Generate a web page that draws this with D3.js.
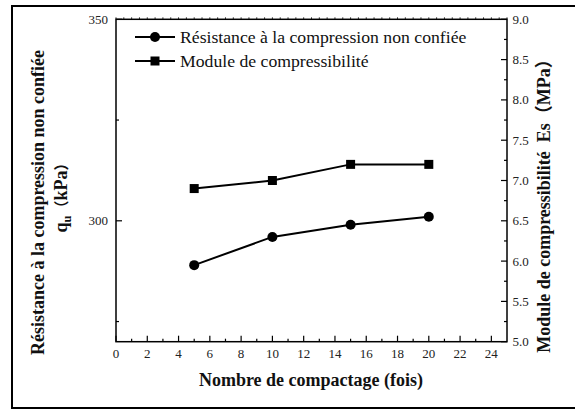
<!DOCTYPE html>
<html><head><meta charset="utf-8">
<script src="https://cdn.jsdelivr.net/npm/d3@7"></script>
<style>body{margin:0;background:#fff}svg{display:block}
svg text{font-family:"Liberation Serif","Times New Roman",Tinos,"DejaVu Serif",serif;}
svg text tspan.cjk{font-family:"Noto Sans CJK SC","Noto Sans CJK JP",sans-serif;}
</style>
</head><body>
<svg id="c" width="575" height="410"></svg>
<script>
const compactions = [5, 10, 15, 20];
const strengthKPa = [289, 296, 299, 301];
const modulusMPa = [6.9, 7.0, 7.2, 7.2];
const xTicks = [0, 2, 4, 6, 8, 10, 12, 14, 16, 18, 20, 22, 24];
const leftTicks = [300, 350];
const rightTicks = [5.0, 5.5, 6.0, 6.5, 7.0, 7.5, 8.0, 8.5, 9.0];
const seriesNames = ["Résistance à la compression non confiée", "Module de compressibilité"];

const svg = d3.select("#c");
const L = 116, R = 507, T = 19.3, B = 341.7;
const x = d3.scaleLinear().domain([0, 25]).range([L, R]);
const yL = d3.scaleLinear().domain([270, 350]).range([B, T]);
const yR = d3.scaleLinear().domain([5, 9]).range([B, T]);

// outer frame
svg.append("rect").attr("x", 12).attr("y", 6).attr("width", 570).attr("height", 402)
  .attr("fill", "none").attr("stroke", "#000").attr("stroke-width", 2);

// axes ticks (inward)
const g = svg.append("g").attr("stroke", "#000").attr("stroke-width", 1.2);
d3.range(0, 25, 1).forEach(v => {
  const len = v % 2 === 0 ? 6 : 3;
  g.append("line").attr("x1", x(v)).attr("x2", x(v)).attr("y1", B).attr("y2", B - len);
});
d3.range(0, 25.01, 0.5).forEach(v => {
  g.append("line").attr("x1", x(v)).attr("x2", x(v)).attr("y1", T).attr("y2", T - 2).attr("stroke-width", 0.8);
});
[275, 300, 325, 350].forEach(v => {
  const len = leftTicks.includes(v) ? 6 : 3;
  g.append("line").attr("x1", L).attr("x2", L + len).attr("y1", yL(v)).attr("y2", yL(v));
});
d3.range(5, 9.01, 0.25).forEach(v => {
  const major = Math.abs(v * 2 - Math.round(v * 2)) < 1e-6;
  const len = major ? 6 : 3;
  g.append("line").attr("x1", R).attr("x2", R - len).attr("y1", yR(v)).attr("y2", yR(v));
});

// axis frame lines
svg.append("rect").attr("x", L).attr("y", T).attr("width", R - L).attr("height", B - T)
  .attr("fill", "none").attr("stroke", "#000").attr("stroke-width", 1.5);

// tick labels
const tl = svg.append("g").attr("font-size", 13).attr("fill", "#222");
xTicks.forEach(v => tl.append("text").attr("x", x(v)).attr("y", B + 16.5).attr("text-anchor", "middle").text(v));
leftTicks.forEach(v => tl.append("text").attr("x", L - 8).attr("y", yL(v) + 4.5).attr("text-anchor", "end").text(v));
rightTicks.forEach(v => tl.append("text").attr("x", R + 5.5).attr("y", yR(v) + 4.5).attr("text-anchor", "start").text(v.toFixed(1)));

// series
const line = d3.line();
const p1 = compactions.map((c, i) => [x(c), yL(strengthKPa[i])]);
const p2 = compactions.map((c, i) => [x(c), yR(modulusMPa[i])]);
svg.append("path").attr("d", line(p1)).attr("fill", "none").attr("stroke", "#000").attr("stroke-width", 2);
svg.append("path").attr("d", line(p2)).attr("fill", "none").attr("stroke", "#000").attr("stroke-width", 2);
p1.forEach(p => svg.append("circle").attr("cx", p[0]).attr("cy", p[1]).attr("r", 5).attr("fill", "#000"));
p2.forEach(p => svg.append("rect").attr("x", p[0] - 4.5).attr("y", p[1] - 4.5).attr("width", 9).attr("height", 9).attr("fill", "#000"));

// legend
const lg = svg.append("g");
[37, 61].forEach((yy, i) => {
  lg.append("line").attr("x1", 135).attr("x2", 175).attr("y1", yy).attr("y2", yy).attr("stroke", "#000").attr("stroke-width", 2);
  if (i === 0) lg.append("circle").attr("cx", 155).attr("cy", yy).attr("r", 5).attr("fill", "#000");
  else lg.append("rect").attr("x", 150.5).attr("y", yy - 4.5).attr("width", 9).attr("height", 9).attr("fill", "#000");
  lg.append("text").attr("x", 180).attr("y", yy + 6).attr("font-size", 17.7)
    .attr("fill", "#111").text(seriesNames[i]);
});

// axis titles
const xt = svg.append("text").attr("x", 311).attr("y", 386).attr("text-anchor", "middle").text("Nombre de compactage (fois)");
const lt1 = svg.append("text").attr("transform", "translate(44,202.5) rotate(-90)").attr("text-anchor", "middle").text("Résistance à la compression non confiée");
const lt2 = svg.append("text").attr("transform", "translate(66.5,194) rotate(-90)").attr("text-anchor", "middle");
lt2.append("tspan").text("q");
lt2.append("tspan").attr("font-size", 12.5).attr("dy", 4).text("u");
lt2.append("tspan").attr("class", "cjk").attr("font-size", 15).attr("dy", -4).text("（");
lt2.append("tspan").text("kPa");
lt2.append("tspan").attr("class", "cjk").attr("font-size", 15).text("）");
const rt = svg.append("text").attr("transform", "translate(550,201.5) rotate(-90)").attr("text-anchor", "middle")
  .attr("xml:space", "preserve");
rt.append("tspan").text("Module de compressibilité  Es");
rt.append("tspan").attr("class", "cjk").text("（");
rt.append("tspan").text("MPa");
rt.append("tspan").attr("class", "cjk").text("）");
[xt, lt1, lt2, rt].forEach(t => t.attr("font-size", 18).attr("font-weight", "bold").attr("fill", "#111"));
lt2.selectAll("tspan.cjk").attr("font-size", 15);
lt2.selectAll("tspan").filter(function(){ return this.textContent === "u"; }).attr("font-size", 12.5);
</script>
</body></html>
